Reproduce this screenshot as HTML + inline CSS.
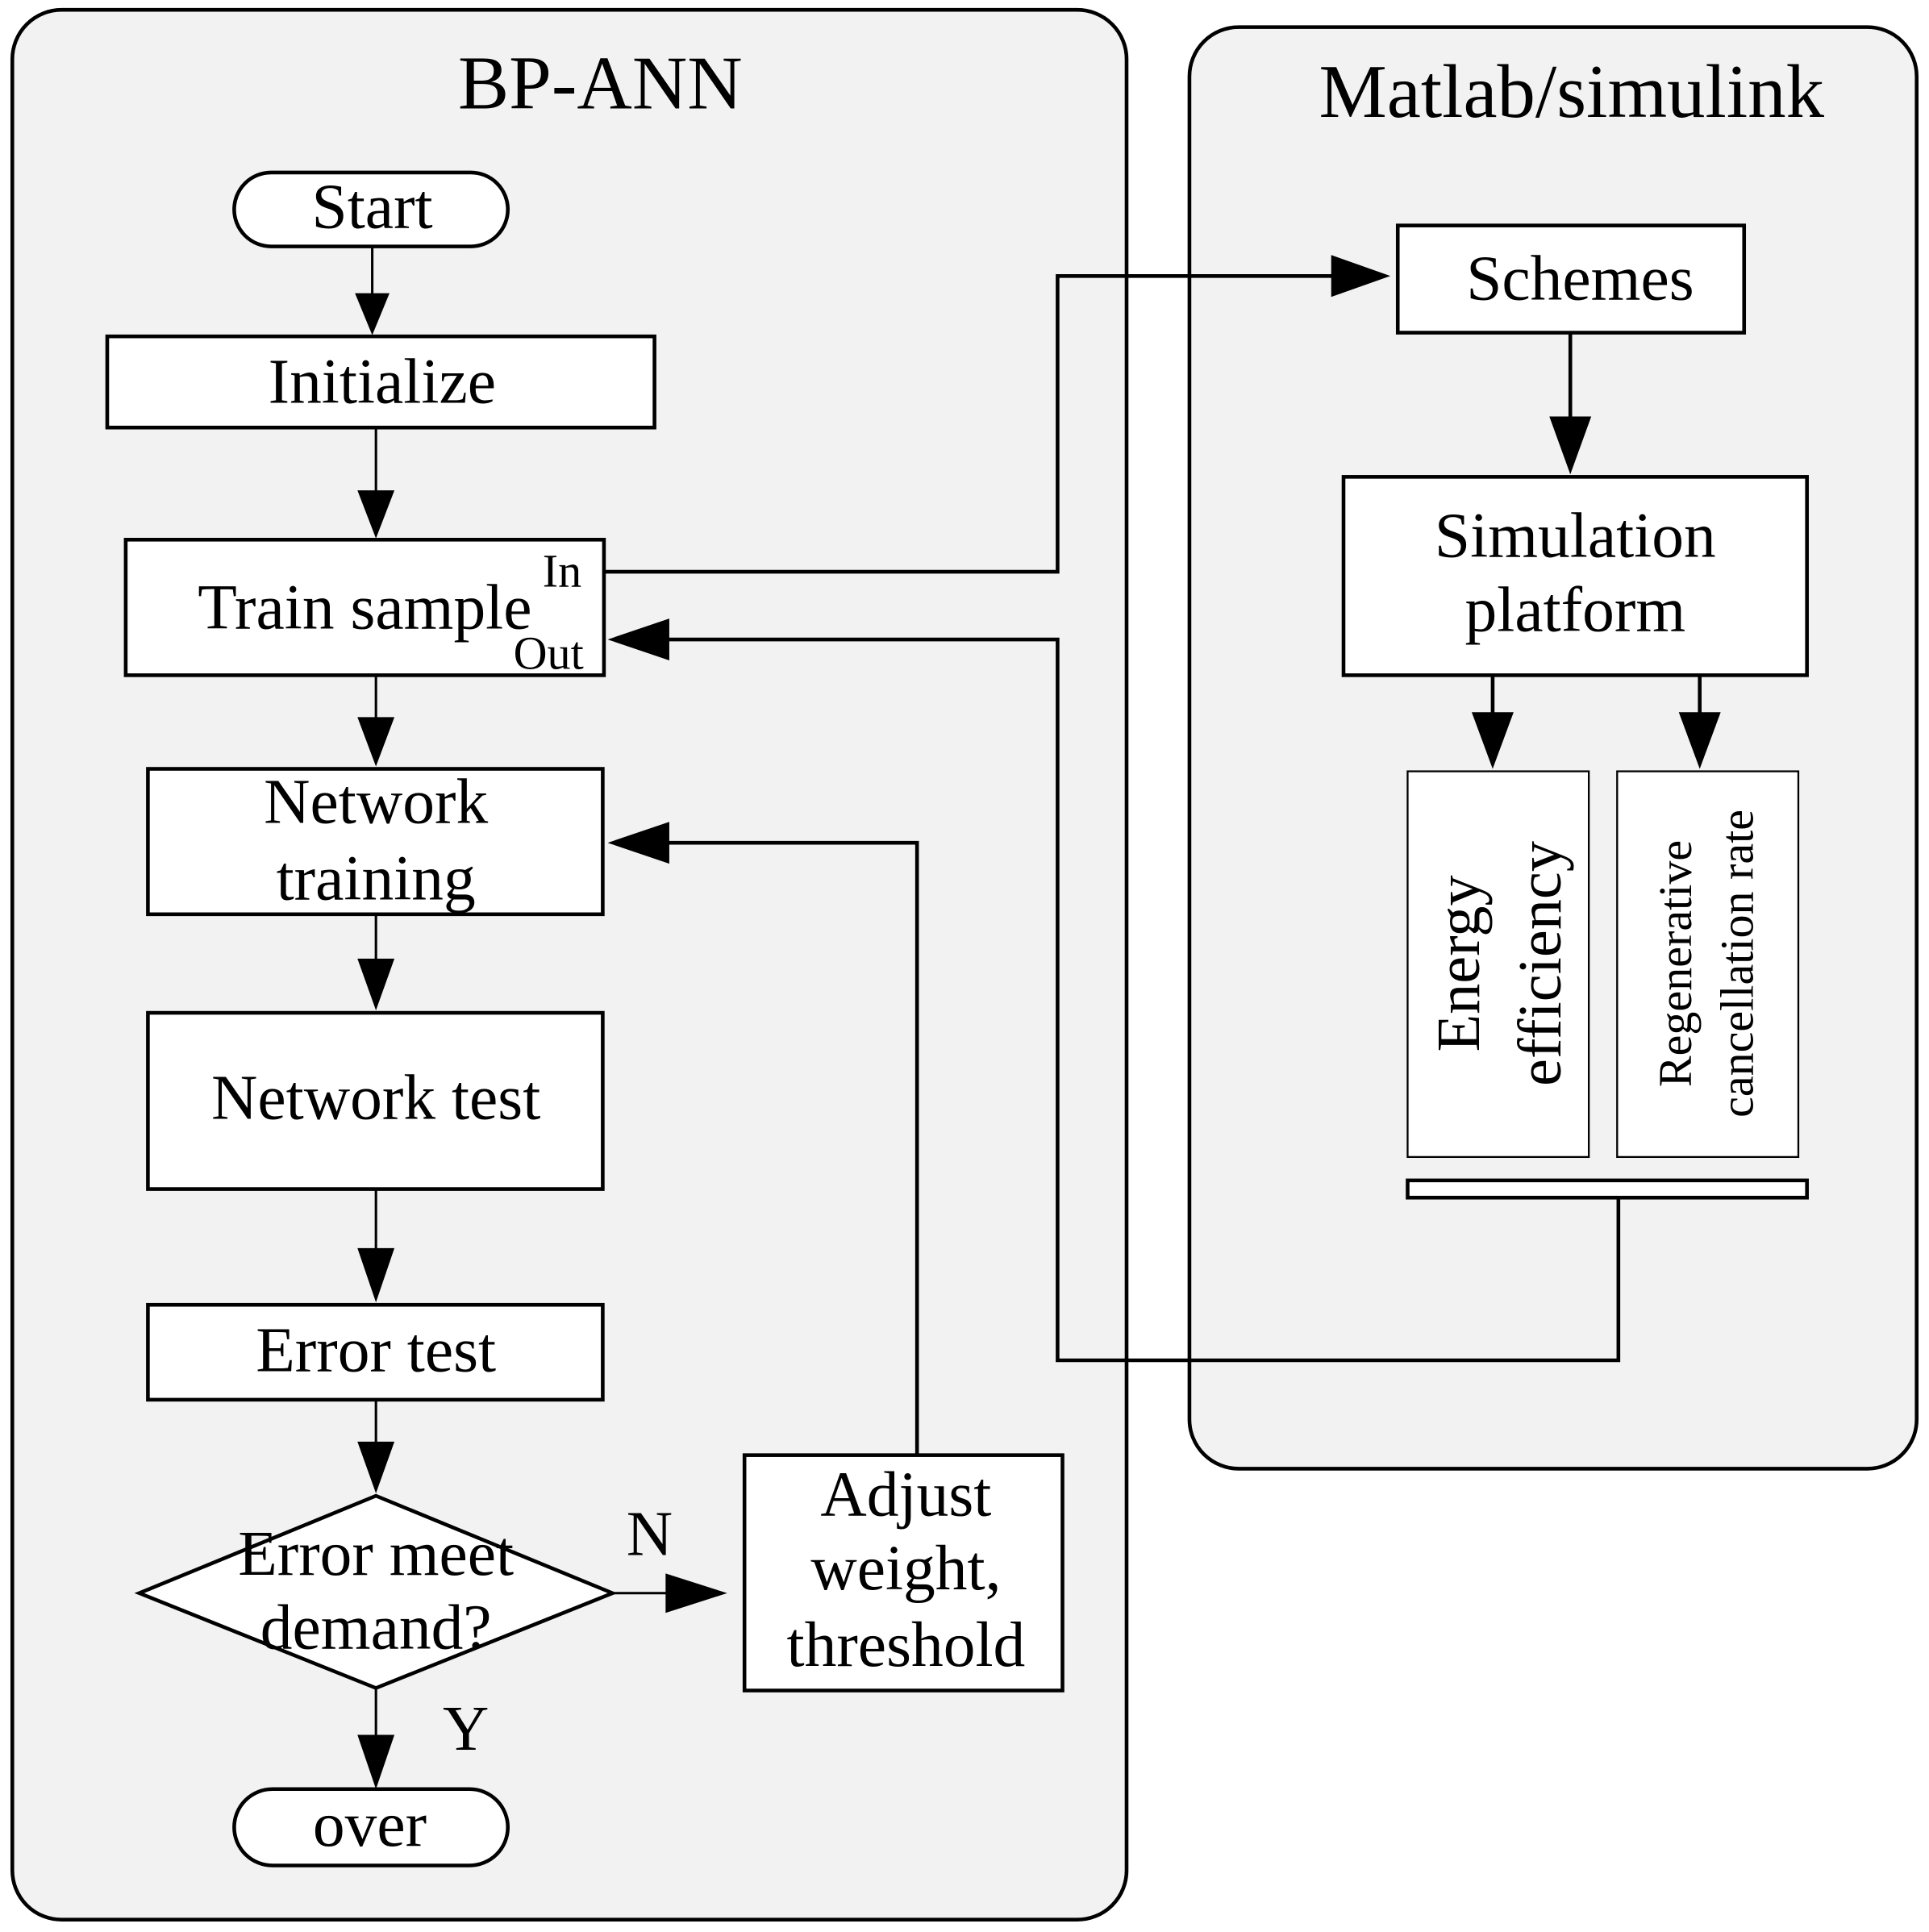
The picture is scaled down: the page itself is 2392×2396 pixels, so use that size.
<!DOCTYPE html>
<html><head><meta charset="utf-8"><style>
html,body{margin:0;padding:0;background:#fff;}
svg{display:block;}
text{font-family:"Liberation Serif",serif;fill:#000;}
</style></head><body>
<svg width="2392" height="2396" viewBox="0 0 1565 1568" preserveAspectRatio="none" xmlns="http://www.w3.org/2000/svg">
<g stroke="#000" stroke-width="3">
<rect x="10" y="8" width="904" height="1550" rx="40" fill="#f2f2f2"/>
<rect x="965" y="22" width="590" height="1170" rx="40" fill="#f2f2f2"/>
<rect x="190" y="140" width="222" height="60" rx="30" fill="#fff"/>
<rect x="87" y="273" width="444" height="74" fill="#fff"/>
<rect x="102" y="438" width="388" height="110" fill="#fff"/>
<rect x="120" y="624" width="369" height="118" fill="#fff"/>
<rect x="120" y="822" width="369" height="143" fill="#fff"/>
<rect x="120" y="1059" width="369" height="77" fill="#fff"/>
<polygon points="305,1214 497,1293 305,1370 113,1293" fill="#fff"/>
<rect x="604" y="1181" width="258" height="191" fill="#fff"/>
<rect x="190" y="1452" width="222" height="62" rx="31" fill="#fff"/>
<rect x="1134" y="183" width="281" height="87" fill="#fff"/>
<rect x="1090" y="387" width="376" height="161" fill="#fff"/>
<rect x="1142" y="626" width="147" height="313" fill="#fff" stroke-width="1.5"/>
<rect x="1312" y="626" width="147" height="313" fill="#fff" stroke-width="1.5"/>
<rect x="1142" y="958" width="324" height="14" fill="#fff"/>
<g fill="none" stroke-width="2">
<line x1="302" y1="200" x2="302" y2="240"/>
<line x1="305" y1="347" x2="305" y2="400"/>
<line x1="305" y1="548" x2="305" y2="585"/>
<line x1="305" y1="742" x2="305" y2="780"/>
<line x1="305" y1="965" x2="305" y2="1015"/>
<line x1="305" y1="1136" x2="305" y2="1172"/>
<line x1="305" y1="1370" x2="305" y2="1410"/>
<line x1="497" y1="1293" x2="545" y2="1293"/>
</g>
<g fill="none" stroke-width="3">
<polyline points="744,1181 744,684 540,684"/>
<polyline points="490,464 858,464 858,224 1085,224"/>
<polyline points="1313,972 1313,1104 858,1104 858,519 540,519"/>
<line x1="1274" y1="270" x2="1274" y2="340"/>
<line x1="1211" y1="548" x2="1211" y2="580"/>
<line x1="1379" y1="548" x2="1379" y2="580"/>
</g>
</g>
<g fill="#000">
<polygon points="288,238 316,238 302,272"/>
<polygon points="290,398 320,398 305,437"/>
<polygon points="290,582 320,582 305,622"/>
<polygon points="290,778 320,778 305,820"/>
<polygon points="290,1013 320,1013 305,1057"/>
<polygon points="290,1170 320,1170 305,1212"/>
<polygon points="290,1408 320,1408 305,1452"/>
<polygon points="540,1277 540,1309 590,1293"/>
<polygon points="543,667 543,701 493,684"/>
<polygon points="543,502 543,536 493,519"/>
<polygon points="1080,207 1080,241 1128,224"/>
<polygon points="1257,338 1291,338 1274,385"/>
<polygon points="1194,578 1228,578 1211,624"/>
<polygon points="1362,578 1396,578 1379,624"/>
</g>
<g text-anchor="middle">
<text x="487" y="88" font-size="62">BP-ANN</text>
<text x="1275" y="95" font-size="62">Matlab/simulink</text>
<text x="302" y="185" font-size="52">Start</text>
<text x="310" y="327" font-size="52">Initialize</text>
<text x="296" y="510" font-size="52">Train sample</text>
<text x="456" y="476" font-size="38">In</text>
<text x="445" y="543" font-size="38">Out</text>
<text x="305" y="668" font-size="52">Network</text>
<text x="305" y="730" font-size="52">training</text>
<text x="305" y="908" font-size="52">Network test</text>
<text x="305" y="1113" font-size="52">Error test</text>
<text x="305" y="1278" font-size="52">Error meet</text>
<text x="305" y="1338" font-size="52">demand?</text>
<text x="527" y="1262" font-size="52">N</text>
<text x="378" y="1420" font-size="52">Y</text>
<text x="735" y="1230" font-size="52">Adjust</text>
<text x="735" y="1290" font-size="52">weight,</text>
<text x="735" y="1352" font-size="52">threshold</text>
<text x="300" y="1498" font-size="52">over</text>
<text x="1282" y="243" font-size="52">Schemes</text>
<text x="1278" y="452" font-size="52">Simulation</text>
<text x="1278" y="512" font-size="52">platform</text>
<text transform="translate(1200,782) rotate(-90)" font-size="50">Energy</text>
<text transform="translate(1266,782) rotate(-90)" font-size="50">efficiency</text>
<text transform="translate(1372,782) rotate(-90)" font-size="38">Regenerative</text>
<text transform="translate(1422,782) rotate(-90)" font-size="38">cancellation rate</text>
</g>
</svg>
</body></html>
